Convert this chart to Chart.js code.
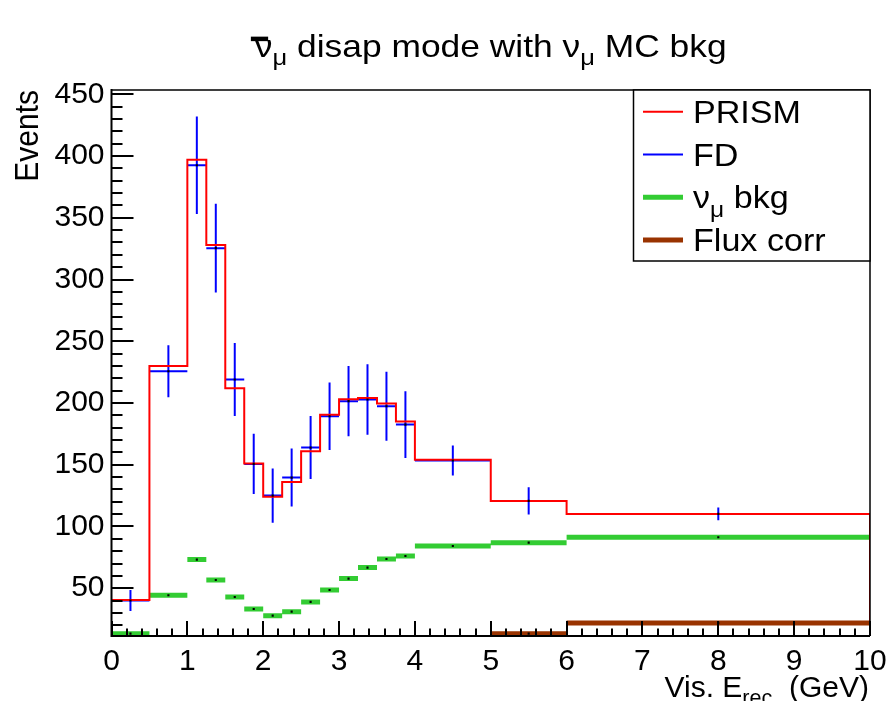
<!DOCTYPE html>
<html><head><meta charset="utf-8">
<script src="https://cdn.jsdelivr.net/npm/chart.js@4"></script>
<style>html,body{margin:0;padding:0;background:#fff;overflow:hidden}</style>
</head><body>
<canvas id="c" width="887" height="701"></canvas>
<script>
// ---------------- data ----------------
const binEdges = [0, 0.5, 1, 1.25, 1.5, 1.75, 2, 2.25, 2.5, 2.75, 3, 3.25, 3.5, 3.75, 4, 5, 6, 10];
const prism    = [40.5, 230, 397, 328, 212, 151, 124, 136, 161, 190.5, 203, 204, 199.5, 185, 154, 120.7, 110.2];
const fd       = [40, 225.7, 392.6, 325.4, 219, 150.7, 125, 139.6, 163.9, 189.3, 201.5, 202.8, 197.4, 182.5, 153.4, 120.7, 110.2];
const fdErr    = [8.5, 21, 39.5, 36, 29.5, 24.3, 22, 23.5, 25.5, 27.4, 28.4, 28.5, 28, 27, 12.1, 11, 5.2];
const numuBkg  = [13.2, 44.3, 73.2, 56.7, 42.9, 33.2, 27.8, 31, 38.9, 48.6, 57.8, 66.7, 73.7, 76.1, 84.2, 86.9, 91.3];
const fluxCorr = [null, null, null, null, null, null, null, null, null, null, null, null, null, null, null, 13.2, 21.9];
const xTickVals = [0, 1, 2, 3, 4, 5, 6, 7, 8, 9, 10];
const yTickVals = [50, 100, 150, 200, 250, 300, 350, 400, 450];
const X_MIN = 0, X_MAX = 10, Y_MIN = 11.3, Y_MAX = 453.5;

const COL_PRISM = '#ff0000', COL_FD = '#0000ff', COL_BKG = '#33cc33', COL_FLUX = '#993300';
const FONT = '"Liberation Sans", Arial, Helvetica, sans-serif';

// ---------------- build datasets ----------------
const prismPts = [];
for (let i = 0; i < prism.length; i++) {
  prismPts.push({x: binEdges[i], y: prism[i]}, {x: binEdges[i + 1], y: prism[i]});
}
prismPts.push({x: binEdges[binEdges.length - 1], y: Y_MIN});

const fdPts = [];
for (let i = 0; i < fd.length; i++) {
  const lo = binEdges[i], hi = binEdges[i + 1], c = (lo + hi) / 2;
  fdPts.push({x: lo, y: fd[i]}, {x: hi, y: fd[i]}, {x: hi, y: null});
  fdPts.push({x: c, y: fd[i] - fdErr[i]}, {x: c, y: fd[i] + fdErr[i]}, {x: c, y: null});
}
function barPts(vals) {
  const p = [];
  for (let i = 0; i < vals.length; i++) {
    if (vals[i] === null) continue;
    p.push({x: binEdges[i], y: vals[i]}, {x: binEdges[i + 1], y: vals[i]}, {x: binEdges[i + 1], y: null});
  }
  return p;
}
const markerPts = [];
[fd, numuBkg, fluxCorr].forEach(arr => arr.forEach((v, i) => {
  if (v !== null) markerPts.push({x: (binEdges[i] + binEdges[i + 1]) / 2, y: v});
}));

// ---------------- text helpers ----------------
function partFont(p, size) { return (p.sub ? size * 0.72 : size) + 'px ' + FONT; }
function richWidth(ctx, parts, size, sx) {
  let w = 0;
  for (const p of parts) { ctx.font = partFont(p, size); w += ctx.measureText(p.t).width * sx; }
  return w;
}
function drawRich(ctx, parts, x, y, size, align, sx) {
  const w = richWidth(ctx, parts, size, sx);
  let cx = align === 'center' ? x - w / 2 : (align === 'right' ? x - w : x);
  ctx.fillStyle = '#000';
  for (const p of parts) {
    ctx.font = partFont(p, size);
    const pw = ctx.measureText(p.t).width * sx;
    ctx.save();
    ctx.translate(cx, y + (p.sub ? size * 0.27 : 0));
    ctx.scale(sx, 1);
    ctx.textAlign = 'left'; ctx.textBaseline = 'alphabetic';
    ctx.fillText(p.t, 0, 0);
    ctx.restore();
    if (p.bar) ctx.fillRect(cx - 4, y - size * 0.52 - 4.5, pw * 0.75 + 4, 4.5);
    cx += pw;
  }
}

const titleParts = [{t: 'ν', bar: true}, {t: 'μ', sub: true}, {t: ' disap mode with ν'}, {t: 'μ', sub: true}, {t: ' MC bkg'}];
const xTitleParts = [{t: 'Vis. E'}, {t: 'rec', sub: true}, {t: '  (GeV)'}];
const legendEntries = [
  {parts: [{t: 'PRISM'}], color: COL_PRISM, lw: 2},
  {parts: [{t: 'FD'}], color: COL_FD, lw: 2},
  {parts: [{t: 'ν'}, {t: 'μ', sub: true}, {t: ' bkg'}], color: COL_BKG, lw: 5},
  {parts: [{t: 'Flux corr'}], color: COL_FLUX, lw: 5}
];

const decor = {
  id: 'decor',
  afterDraw(chart) {
    const ctx = chart.ctx, a = chart.chartArea, xs = chart.scales.x, ys = chart.scales.y;
    ctx.save();
    // frame
    ctx.strokeStyle = '#000';
    ctx.lineWidth = 1.5;
    ctx.beginPath(); ctx.moveTo(a.left, a.top); ctx.lineTo(a.right, a.top); ctx.lineTo(a.right, a.bottom); ctx.stroke();
    ctx.lineWidth = 2;
    ctx.beginPath(); ctx.moveTo(a.left, a.top - 1); ctx.lineTo(a.left, a.bottom); ctx.lineTo(a.right, a.bottom); ctx.stroke();
    // ticks
    ctx.lineWidth = 2;
    ctx.beginPath();
    for (let v = 20; v <= Y_MAX; v += 10) {
      const py = Math.round(ys.getPixelForValue(v));
      const major = yTickVals.includes(v);
      ctx.moveTo(a.left, py); ctx.lineTo(a.left + (major ? 22 : 11), py);
    }
    for (let k = 0; k <= 50; k++) {
      const v = k * 0.2;
      const px = Math.round(xs.getPixelForValue(v));
      const major = k % 5 === 0;
      ctx.moveTo(px, a.bottom); ctx.lineTo(px, a.bottom - (major ? 15 : 7.5));
    }
    ctx.stroke();
    // title
    drawRich(ctx, titleParts, (a.left + a.right) / 2, 57, 30.5, 'center', 1.16);
    // y title
    ctx.save();
    ctx.translate(38, 90); ctx.rotate(-Math.PI / 2); ctx.scale(1, 1.1);
    ctx.font = '30px ' + FONT; ctx.fillStyle = '#000'; ctx.textAlign = 'right'; ctx.textBaseline = 'alphabetic';
    ctx.fillText('Events', 0, 0);
    ctx.restore();
    // x title
    drawRich(ctx, xTitleParts, 869, 697, 30, 'right', 1.0);
    // legend
    const L = {x0: 633.5, y0: a.top, x1: a.right, y1: 261};
    ctx.fillStyle = '#fff';
    ctx.fillRect(L.x0, L.y0, L.x1 - L.x0, L.y1 - L.y0);
    ctx.strokeStyle = '#000'; ctx.lineWidth = 1.5;
    ctx.strokeRect(L.x0, L.y0, L.x1 - L.x0, L.y1 - L.y0);
    legendEntries.forEach((e, i) => {
      const cy = 111.7 + i * 42.8;
      ctx.strokeStyle = e.color; ctx.lineWidth = e.lw; ctx.lineCap = 'butt';
      ctx.beginPath(); ctx.moveTo(643, cy); ctx.lineTo(683, cy); ctx.stroke();
      drawRich(ctx, e.parts, 693, cy + 11, 31, 'left', 1.1);
    });
    ctx.restore();
  }
};

new Chart(document.getElementById('c'), {
  type: 'line',
  data: {
    datasets: [
      {label: 'markers', type: 'scatter', data: markerPts, order: -1, pointStyle: 'rect', pointRadius: 1.5,
       pointBackgroundColor: '#000', pointBorderWidth: 0, showLine: false},
      {label: 'PRISM', data: prismPts, borderColor: COL_PRISM, borderWidth: 2, pointRadius: 0, fill: false, tension: 0, order: 0},
      {label: 'FD', data: fdPts, borderColor: COL_FD, borderWidth: 2, pointRadius: 0, fill: false, spanGaps: false, order: 1},
      {label: 'νμ bkg', data: barPts(numuBkg), borderColor: COL_BKG, borderWidth: 5, borderCapStyle: 'butt', pointRadius: 0, fill: false, spanGaps: false, order: 2},
      {label: 'Flux corr', data: barPts(fluxCorr), borderColor: COL_FLUX, borderWidth: 5, borderCapStyle: 'butt', pointRadius: 0, fill: false, spanGaps: false, order: 3}
    ]
  },
  options: {
    responsive: false, animation: false, devicePixelRatio: 1,
    layout: {padding: {top: 90, right: 17, left: 0, bottom: 0}},
    plugins: {legend: {display: false}, tooltip: {enabled: false}, title: {display: false}},
    scales: {
      x: {type: 'linear', min: X_MIN, max: X_MAX,
          afterBuildTicks: s => { s.ticks = xTickVals.map(v => ({value: v})); },
          afterFit: s => { s.height = 65; s.paddingLeft = 0; s.paddingRight = 0; },
          grid: {display: false, drawTicks: false}, border: {display: false},
          ticks: {color: '#000', font: {family: FONT, size: 30}, padding: 8, maxRotation: 0, autoSkip: false}},
      y: {type: 'linear', min: Y_MIN, max: Y_MAX,
          afterBuildTicks: s => { s.ticks = yTickVals.map(v => ({value: v})); },
          afterFit: s => { s.width = 111.5; s.paddingTop = 0; s.paddingBottom = 0; },
          grid: {display: false, drawTicks: false}, border: {display: false},
          ticks: {color: '#000', font: {family: FONT, size: 30}, padding: 7}}
    }
  },
  plugins: [decor]
});
</script>
</body></html>
